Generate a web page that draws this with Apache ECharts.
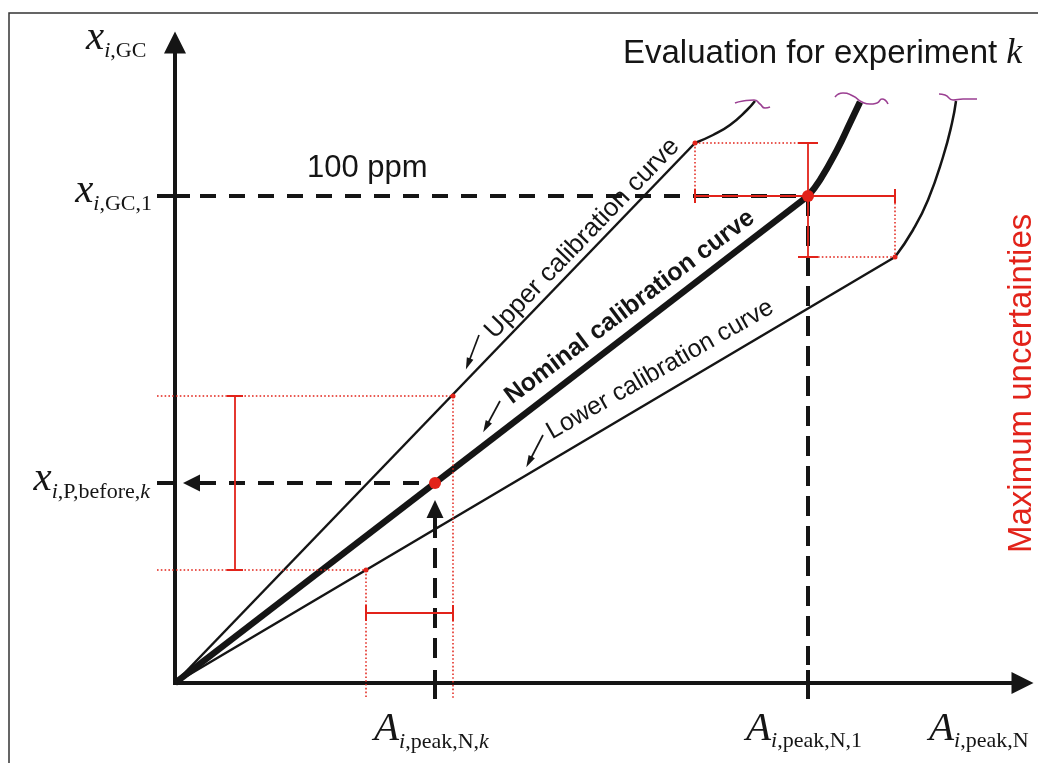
<!DOCTYPE html>
<html><head><meta charset="utf-8">
<script src="https://cdn.jsdelivr.net/npm/echarts@6/dist/echarts.min.js"></script>
<style>html,body{margin:0;padding:0;background:#fff}#c{width:1038px;height:763px}</style>
</head><body><div id="c"></div>
<script>
// ---------- schematic values (axis units) ----------
const A_k = 26.0, A_1 = 63.3;        // A_{i,peak,N,k}, A_{i,peak,N,1}
const xPk = 20.0, xGC1 = 48.7;       // x_{i,P,before,k}, x_{i,GC,1}
const nominalLine = [[0,0],[63.3,48.7]];
const nominalBend = [[63.3,48.7],[64.5,50.3],[66.2,53.3],[67.5,56.0],[68.5,58.1]];
const upperLine = [[0,0],[52.0,54.0]];
const upperBend = [[52.0,54.0],[53.8,54.8],[55.5,55.8],[57.2,57.3],[58.0,58.2]];
const lowerLine = [[0,0],[72.0,42.6]];
const lowerBend = [[72.0,42.6],[73.8,45.3],[75.3,48.3],[76.8,52.6],[77.7,56.0],[78.1,58.2]];
const upperTail = [[56.0,58.0],[56.8,58.2],[57.9,58.3],[58.5,57.9],[59.0,57.5],[59.5,57.6]];
const nominalTail = [[66.0,58.6],[66.8,59.0],[67.8,58.7],[68.7,58.1],[69.5,57.9],[70.2,58.0],[70.7,58.4],[71.3,57.9]];
const lowerTail = [[76.4,58.9],[77.0,58.8],[77.8,58.3],[78.8,58.4],[80.2,58.4]];
const kUpperPt = [27.8,28.7], kLowerPt = [19.1,11.3];   // bounds for experiment k
const oneUpperPt = [52.0,54.0], oneLowerPt = [72.0,42.6]; // bounds at 100 ppm
const yBarX = 6.0, xBarY = 7.0;       // left vertical bar x, bottom horizontal bar y
const axisLeft = -1.8, axisBelow = -1.6, axisTop = 63.5, axisRight = 84.0;
const labelArrows = [
  [[30.4,34.8],[29.3,31.9]],
  [[32.5,28.2],[31.1,25.6]],
  [[36.8,24.8],[35.4,22.1]]
];

const RED = '#e2231a', BLACK = '#151515', PURPLE = '#9b3f92';

function seg(data, color, width, type, z, smooth) {
  return {type:'line', data:data, symbol:'none', silent:true, animation:false, z:z||2,
    smooth:smooth||false, emphasis:{disabled:true},
    lineStyle:{color:color, width:width, type:type||'solid', cap:'butt'}};
}
const DOT = [1.6,2.2];
const series = [];
// axes
series.push(seg([[0,-0.2],[0,axisTop]], BLACK, 4));
series.push(seg([[-0.2,0],[axisRight,0]], BLACK, 4));
// ticks
series.push(seg([[axisLeft,xGC1],[1.5,xGC1]], BLACK, 4));
series.push(seg([[axisLeft,xPk],[0,xPk]], BLACK, 4));
series.push(seg([[A_k,1.3],[A_k,axisBelow]], BLACK, 4));
series.push(seg([[A_1,1.3],[A_1,axisBelow]], BLACK, 4));
// dashed guides
series.push(seg([[2.5,xGC1],[A_1,xGC1]], BLACK, 4, [16,13]));
series.push(seg([[2.5,xPk],[A_k-0.5,xPk]], BLACK, 4, [16,13]));
series.push(seg([[A_k,16.5],[A_k,1.8]], BLACK, 4, [20,10]));
series.push(seg([[A_1,xGC1],[A_1,1.8]], BLACK, 4, [20,10]));
// curves
series.push(seg(upperLine, BLACK, 2.5));
series.push(seg(upperBend, BLACK, 2.5, 'solid', 2, 0.5));
series.push(seg(lowerLine, BLACK, 2.5));
series.push(seg(lowerBend, BLACK, 2.5, 'solid', 2, 0.5));
series.push(seg(nominalLine, BLACK, 6.5));
series.push(seg(nominalBend, BLACK, 6.5, 'solid', 2, 0.5));
series.push(seg(upperTail, PURPLE, 1.6, 'solid', 3, 0.6));
series.push(seg(nominalTail, PURPLE, 1.6, 'solid', 3, 0.6));
series.push(seg(lowerTail, PURPLE, 1.6, 'solid', 3, 0.6));
// red uncertainty construction: experiment k
series.push(seg([[axisLeft,kUpperPt[1]],kUpperPt], RED, 1.5, DOT, 4));
series.push(seg([[axisLeft,kLowerPt[1]],kLowerPt], RED, 1.5, DOT, 4));
series.push(seg([kLowerPt,[kLowerPt[0],axisBelow]], RED, 1.5, DOT, 4));
series.push(seg([kUpperPt,[kUpperPt[0],axisBelow]], RED, 1.5, DOT, 4));
series.push(seg([[yBarX,kUpperPt[1]],[yBarX,kLowerPt[1]]], RED, 1.8, 'solid', 5));
series.push(seg([[yBarX-0.8,kUpperPt[1]],[yBarX+0.8,kUpperPt[1]]], RED, 2, 'solid', 5));
series.push(seg([[yBarX-0.8,kLowerPt[1]],[yBarX+0.8,kLowerPt[1]]], RED, 2, 'solid', 5));
series.push(seg([[kLowerPt[0],xBarY],[kUpperPt[0],xBarY]], RED, 1.8, 'solid', 5));
series.push(seg([[kLowerPt[0],xBarY+0.8],[kLowerPt[0],xBarY-0.8]], RED, 2, 'solid', 5));
series.push(seg([[kUpperPt[0],xBarY+0.8],[kUpperPt[0],xBarY-0.8]], RED, 2, 'solid', 5));
// red uncertainty construction: 100 ppm
series.push(seg([oneUpperPt,[A_1-1.0,oneUpperPt[1]]], RED, 1.5, DOT, 4));
series.push(seg([oneUpperPt,[oneUpperPt[0],xGC1-0.7]], RED, 1.5, DOT, 4));
series.push(seg([[oneLowerPt[0],xGC1-0.7],oneLowerPt], RED, 1.5, DOT, 4));
series.push(seg([[A_1+1.0,oneLowerPt[1]],oneLowerPt], RED, 1.5, DOT, 4));
series.push(seg([[A_1,oneUpperPt[1]],[A_1,oneLowerPt[1]]], RED, 1.8, 'solid', 5));
series.push(seg([[A_1-1.0,oneUpperPt[1]],[A_1+1.0,oneUpperPt[1]]], RED, 2, 'solid', 5));
series.push(seg([[A_1-1.0,oneLowerPt[1]],[A_1+1.0,oneLowerPt[1]]], RED, 2, 'solid', 5));
series.push(seg([[oneUpperPt[0],xGC1],[oneLowerPt[0],xGC1]], RED, 1.8, 'solid', 5));
series.push(seg([[oneUpperPt[0],xGC1+0.7],[oneUpperPt[0],xGC1-0.7]], RED, 2, 'solid', 5));
series.push(seg([[oneLowerPt[0],xGC1+0.7],[oneLowerPt[0],xGC1-0.7]], RED, 2, 'solid', 5));
// points
series.push({type:'scatter', silent:true, animation:false, z:8, symbol:'circle', symbolSize:12,
  itemStyle:{color:RED, opacity:1}, data:[[A_k,xPk],[A_1,xGC1]]});
series.push({type:'scatter', silent:true, animation:false, z:8, symbol:'circle', symbolSize:5,
  itemStyle:{color:RED, opacity:1}, data:[kUpperPt,kLowerPt,oneUpperPt,oneLowerPt]});
// arrowheads
series.push({type:'scatter', silent:true, animation:false, z:9, symbol:'triangle',
  itemStyle:{color:BLACK, opacity:1}, data:[
    {value:[0,64.05], symbolSize:[22,22], symbolRotate:0},
    {value:[84.75,0], symbolSize:[22,22], symbolRotate:-90},
    {value:[1.65,xPk], symbolSize:[17,17], symbolRotate:90},
    {value:[A_k,17.4], symbolSize:[17,18], symbolRotate:0}
  ]});
// little label arrows
series.push({type:'line', data:[], silent:true, animation:false, z:9,
  markLine:{silent:true, animation:false, symbol:['none','triangle'], symbolSize:[7,12],
    label:{show:false}, emphasis:{disabled:true},
    lineStyle:{color:BLACK, width:1.7, type:'solid', opacity:1},
    itemStyle:{opacity:1},
    data: labelArrows.map(a => [{coord:a[0]},{coord:a[1]}])}});

const serif = 'Liberation Serif, Times New Roman, serif';
const sans = 'Liberation Sans, Arial, Helvetica, sans-serif';
const mathRich = {
  m:{fontFamily:serif, fontStyle:'italic', fontSize:41, lineHeight:41, verticalAlign:'top', fill:BLACK},
  si:{fontFamily:serif, fontStyle:'italic', fontSize:22, lineHeight:22, verticalAlign:'top', padding:[22,0,0,0], fill:BLACK},
  sr:{fontFamily:serif, fontSize:22, lineHeight:22, verticalAlign:'top', padding:[22,0,0,0], fill:BLACK}
};
function mathText(str, x, y, align) {
  return {type:'text', x:x, y:y, silent:true, z:20,
    style:{text:str, rich:mathRich, align:align, verticalAlign:'top', fill:BLACK}};
}
function rotText(str, x, y, deg, size, weight, color) {
  return {type:'text', x:x, y:y, rotation:deg*Math.PI/180, silent:true, z:20,
    style:{text:str, x:0, y:-0.35*size, align:'left', verticalAlign:'middle',
      fontFamily:sans, fontSize:size, fontWeight:weight||'normal', fill:color||BLACK}};
}

const chart = echarts.init(document.getElementById('c'), null, {renderer:'canvas'});
chart.setOption({
  animation:false,
  backgroundColor:'#ffffff',
  grid:{left:0, right:0, top:0, bottom:0},
  xAxis:{type:'value', min:-17.5, max:86.3, show:false},
  yAxis:{type:'value', min:-8, max:68.3, show:false},
  series:series,
  graphic:[
    {type:'rect', silent:true, z:0, shape:{x:9, y:13, width:1100, height:900},
      style:{fill:'none', stroke:'#333', lineWidth:1.5}},
    mathText('{m|x}{si|i}{sr|,GC}', 86, 18, 'left'),
    mathText('{m|x}{si|i}{sr|,GC,1}', 152, 171, 'right'),
    mathText('{m|x}{si|i}{sr|,P,before,}{si|k}', 150, 459, 'right'),
    mathText('{m|A}{si|i}{sr|,peak,N,}{si|k}', 374, 709, 'left'),
    mathText('{m|A}{si|i}{sr|,peak,N,1}', 746, 708.5, 'left'),
    mathText('{m|A}{si|i}{sr|,peak,N}', 929, 708.5, 'left'),
    {type:'text', x:307, y:168.3, silent:true, z:20,
      style:{text:'100 ppm', fontFamily:sans, fontSize:31, fill:BLACK, align:'left', verticalAlign:'middle'}},
    {type:'text', x:623, y:54, silent:true, z:20,
      style:{text:'{a|Evaluation for experiment }{k|k}', align:'left', verticalAlign:'middle',
        rich:{a:{fontFamily:sans, fontSize:33, fill:BLACK}, k:{fontFamily:serif, fontStyle:'italic', fontSize:36, fill:BLACK}}}},
    rotText('Upper calibration curve', 496, 341, 46.0, 26, 'normal'),
    rotText('Nominal calibration curve', 513, 406, 37.0, 25, 'bold'),
    rotText('Lower calibration curve', 553, 441, 29.8, 25, 'normal'),
    rotText('Maximum uncertainties', 1033, 553, 90, 33, 'normal', RED)
  ]
});
</script></body></html>
